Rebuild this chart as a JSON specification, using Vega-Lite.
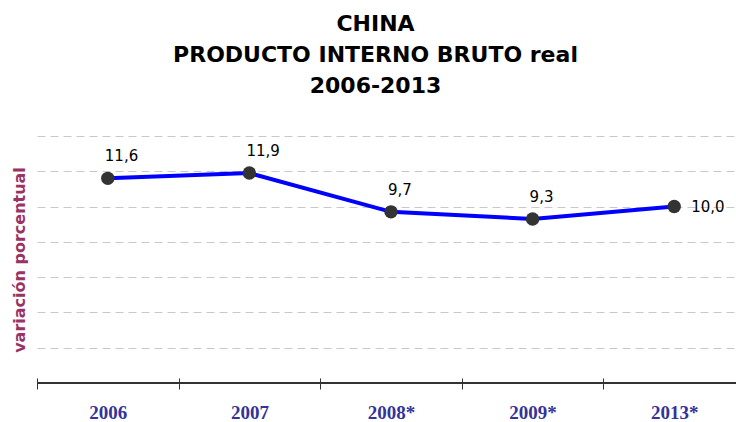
{
  "$schema": "https://vega.github.io/schema/vega-lite/v6.json",
  "width": 699,
  "height": 247,
  "autosize": {"type": "none"},
  "padding": {"left": 37, "top": 136, "right": 0, "bottom": 39},
  "config": {
    "view": {"stroke": null},
    "locale": {"number": {"decimal": ",", "thousands": ".", "grouping": [3], "currency": ["", ""]}}
  },
  "title": {
    "text": ["CHINA", "PRODUCTO INTERNO BRUTO real", "2006-2013"],
    "font": "DejaVu Sans",
    "fontSize": 22,
    "fontWeight": "bold",
    "color": "#000000",
    "lineHeight": 31,
    "anchor": "middle",
    "dx": -11,
    "offset": 38
  },
  "data": {
    "values": [
      {"periodo": "2006", "variacion": 11.6},
      {"periodo": "2007", "variacion": 11.9},
      {"periodo": "2008*", "variacion": 9.7},
      {"periodo": "2009*", "variacion": 9.3},
      {"periodo": "2013*", "variacion": 10.0}
    ]
  },
  "layer": [
    {
      "mark": {"type": "line", "color": "#0000FF", "strokeWidth": 4},
      "encoding": {
        "x": {
          "field": "periodo", "type": "nominal", "sort": null, "bandPosition": 0.5,
          "scale": {"type": "band", "range": [0, 708], "paddingInner": 0, "paddingOuter": 0},
          "axis": {
            "title": null, "tickBand": "extent", "domain": false, "ticks": true,
            "tickSize": 11, "tickColor": "#333333", "offset": -5,
            "labelFont": "Liberation Serif", "labelFontSize": 19, "labelFontWeight": "bold",
            "labelColor": "#333399", "labelPadding": 14, "labelAngle": 0, "grid": false
          }
        },
        "y": {
          "field": "variacion", "type": "quantitative",
          "scale": {"domain": [0, 14], "nice": false},
          "axis": {
            "title": "variación porcentual", "titleColor": "#993366", "titleFont": "DejaVu Sans",
            "titleFontSize": 16, "titleFontWeight": "bold", "titlePadding": 10,
            "labels": false, "labelOverlap": false, "ticks": false, "domain": false, "grid": true,
            "gridColor": "#c8c8c8", "gridDash": [8, 5], "tickCount": 7
          }
        }
      }
    },
    {
      "mark": {"type": "rule", "color": "#333333", "strokeWidth": 1.5},
      "encoding": {"y": {"datum": 0}}
    },
    {
      "mark": {"type": "circle", "color": "#333333", "opacity": 1, "size": 180},
      "encoding": {
        "x": {"field": "periodo", "type": "nominal", "sort": null, "bandPosition": 0.5},
        "y": {"field": "variacion", "type": "quantitative"}
      }
    },
    {
      "transform": [{"filter": "datum.periodo != '2013*'"}],
      "mark": {"type": "text", "align": "left", "baseline": "middle", "dx": -3, "dy": -22, "font": "DejaVu Sans", "fontSize": 15, "color": "#000000"},
      "encoding": {
        "x": {"field": "periodo", "type": "nominal", "sort": null, "bandPosition": 0.5},
        "y": {"field": "variacion", "type": "quantitative"},
        "text": {"field": "variacion", "type": "quantitative", "format": ".1f"}
      }
    },
    {
      "transform": [{"filter": "datum.periodo == '2013*'"}],
      "mark": {"type": "text", "align": "left", "baseline": "middle", "dx": 17, "dy": 0, "font": "DejaVu Sans", "fontSize": 15, "color": "#000000"},
      "encoding": {
        "x": {"field": "periodo", "type": "nominal", "sort": null, "bandPosition": 0.5},
        "y": {"field": "variacion", "type": "quantitative"},
        "text": {"field": "variacion", "type": "quantitative", "format": ".1f"}
      }
    }
  ]
}
